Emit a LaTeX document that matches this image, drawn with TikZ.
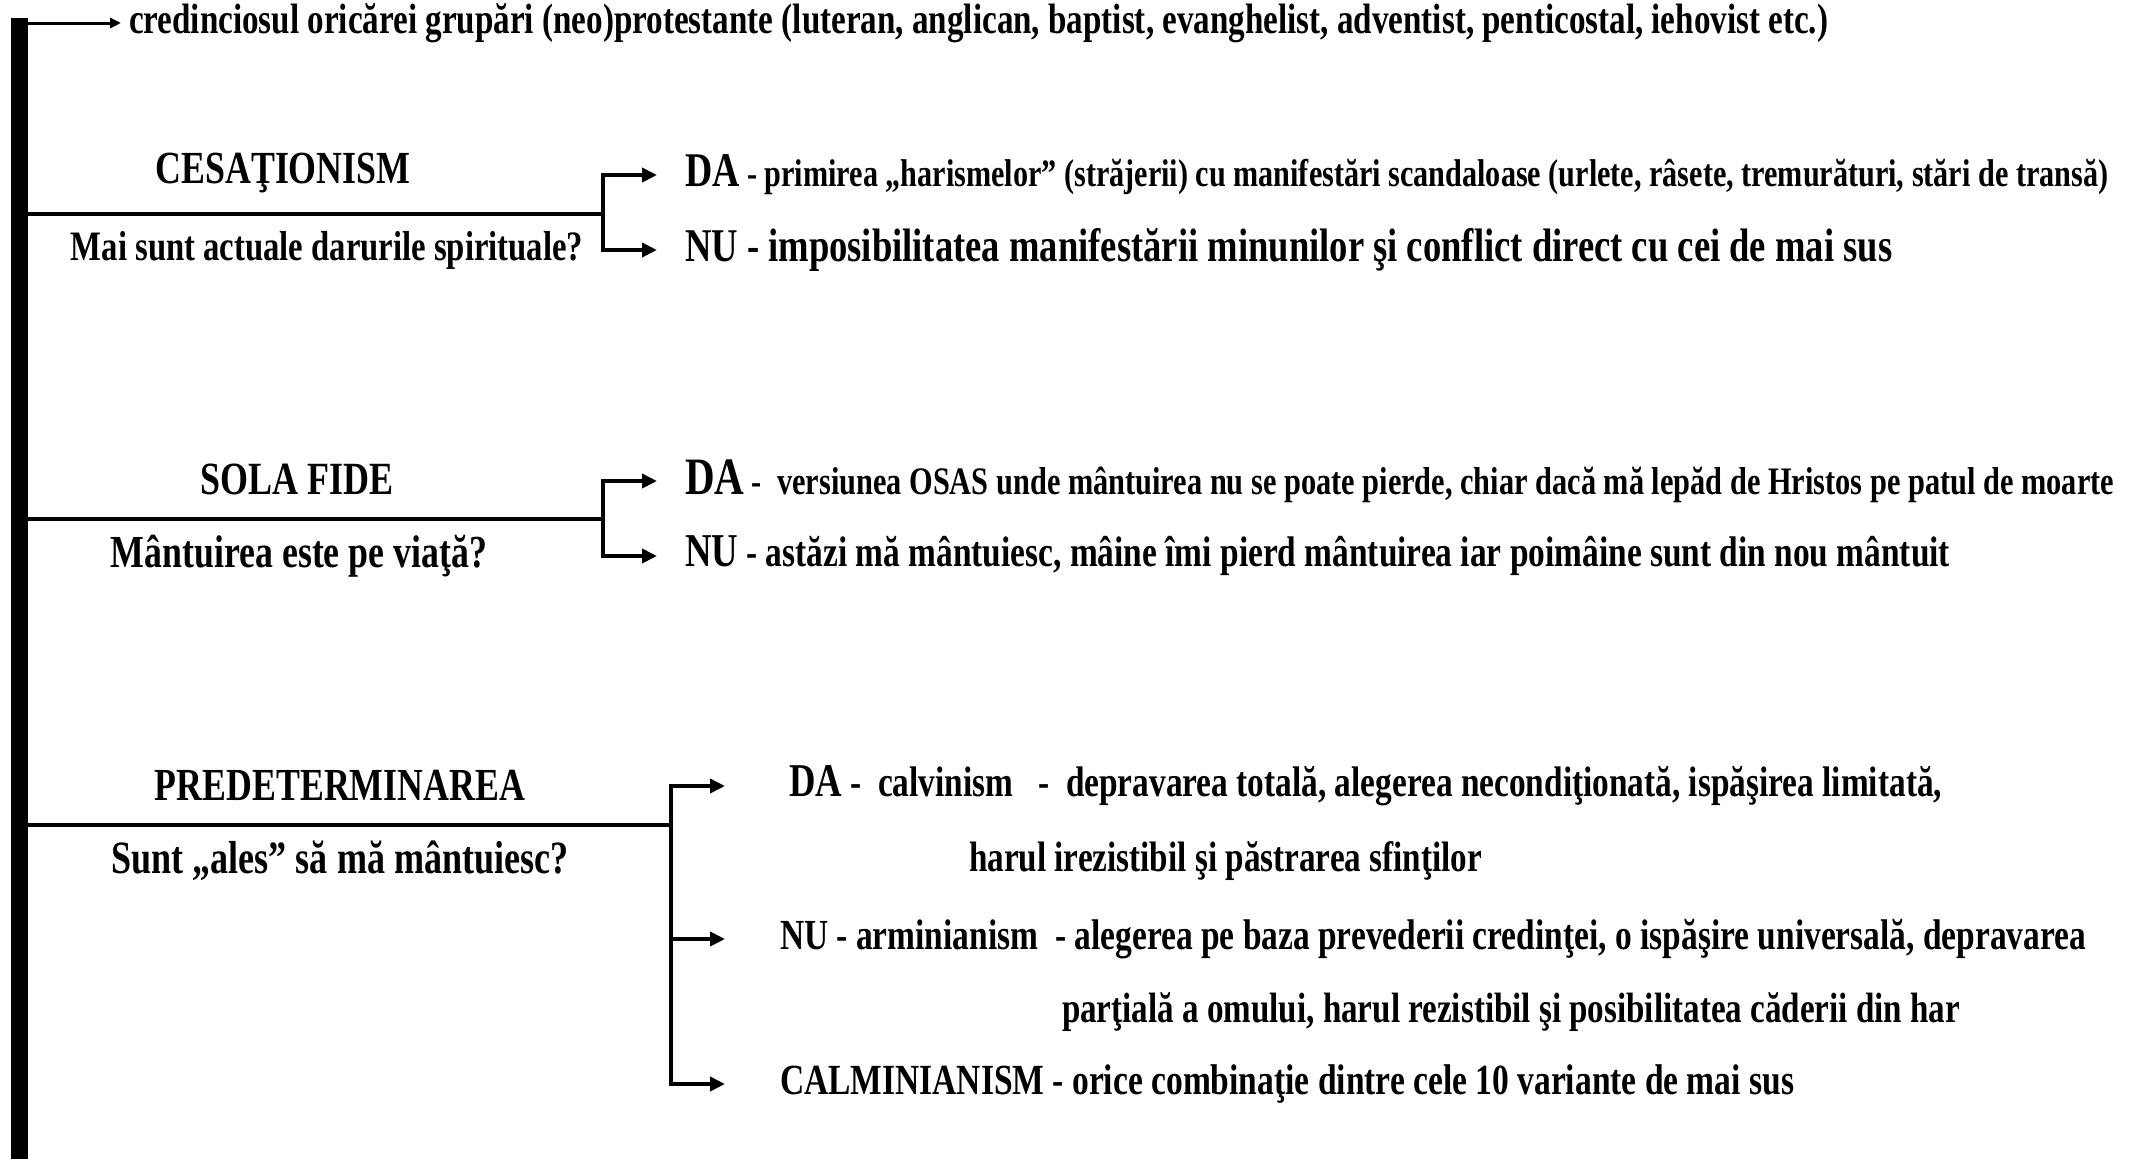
\documentclass[tikz,border=0pt]{standalone}
\usepackage{fontspec}
\setmainfont{Liberation Serif}[FakeStretch=0.78]
\usetikzlibrary{arrows.meta}
\newcommand\fitw[2]{\resizebox{#1pt}{!}{\bfseries\fontsize{20}{24}\selectfont #2}}
\tikzset{
  tri/.tip={Triangle[length=15pt,width=14pt]},
  smalltri/.tip={Triangle[length=11pt,width=10pt]},
  lbl/.style={inner sep=0pt, outer sep=0pt},
  conn/.style={line width=4.5pt, line join=miter},
  thinconn/.style={line width=3pt}
}
\begin{document}
\begin{tikzpicture}[x=1pt,y=-1pt]
\useasboundingbox (0,0) rectangle (2134,1159);
% main bar
\coordinate (barT) at (19,18);
\coordinate (barB) at (19,1159);
\draw[line width=17pt] (barB) -- (barT);
% top line
\node[lbl,anchor=west] (top) at (129,23) {\fitw{1699}{credinciosul oricărei grupări (neo)protestante (luteran, anglican, baptist, evanghelist, adventist, penticostal, iehovist etc.)}};
\coordinate (topS) at (25,23);
\draw[thinconn,-smalltri] (topS) -- ([xshift=-8pt]top.west);
% section 1
\node[lbl] (h1) at (283,173) {\fitw{255}{CESAŢIONISM}};
\node[lbl] (q1) at (327,250) {\fitw{512}{Mai sunt actuale darurile spirituale?}};
\coordinate (s1) at (27,214);
\coordinate (j1) at (603,214);
\draw[conn] (s1) -- (j1);
\node[lbl,anchor=west] (d1) at (685,175) {\fitw{1423}{{\fontsize{25}{25}\selectfont DA} - primirea „harismelor” (străjerii) cu manifestări scandaloase (urlete, râsete, tremurături, stări de transă)}};
\node[lbl,anchor=west] (n1) at (685,250) {\fitw{1207}{NU - imposibilitatea manifestării minunilor şi conflict direct cu cei de mai sus}};
\draw[conn,tri-tri] ([xshift=-28pt]d1.west) -| (j1) |- ([xshift=-28pt]n1.west);
% section 2
\node[lbl] (h2) at (297,479) {\fitw{193}{SOLA FIDE}};
\node[lbl] (q2) at (299,556) {\fitw{376}{Mântuirea este pe viaţă?}};
\coordinate (s2) at (27,519);
\coordinate (j2) at (603,519);
\draw[conn] (s2) -- (j2);
\node[lbl,anchor=west] (d2) at (685,481) {\fitw{1429}{{\fontsize{27}{27}\selectfont DA} -\ \ versiunea OSAS unde mântuirea nu se poate pierde, chiar dacă mă lepăd de Hristos pe patul de moarte}};
\node[lbl,anchor=west] (n2) at (685,556) {\fitw{1265}{{\fontsize{22}{22}\selectfont NU} - astăzi mă mântuiesc, mâine îmi pierd mântuirea iar poimâine sunt din nou mântuit}};
\draw[conn,tri-tri] ([xshift=-28pt]d2.west) -| (j2) |- ([xshift=-28pt]n2.west);
% section 3
\node[lbl] (h3) at (340,785) {\fitw{370}{PREDETERMINAREA}};
\node[lbl] (q3) at (340,861) {\fitw{457}{Sunt „ales” să mă mântuiesc?}};
\coordinate (s3) at (27,825);
\coordinate (j3) at (671,825);
\draw[conn] (s3) -- (j3);
\node[lbl,anchor=west] (d3) at (789,786) {\fitw{1153}{{\fontsize{22}{22}\selectfont DA} -\ \ calvinism\ \ \ -\ \ depravarea totală, alegerea necondiţionată, ispăşirea limitată,}};
\node[lbl,anchor=west] (d3b) at (969,861) {\fitw{513}{harul irezistibil şi păstrarea sfinţilor}};
\node[lbl,anchor=west] (n3) at (780,939) {\fitw{1306}{NU - arminianism\ \ - alegerea pe baza prevederii credinţei, o ispăşire universală, depravarea}};
\node[lbl,anchor=west] (n3b) at (1062,1012) {\fitw{898}{parţială a omului, harul rezistibil şi posibilitatea căderii din har}};
\node[lbl,anchor=west] (c3) at (780,1084) {\fitw{1014}{CALMINIANISM - orice combinaţie dintre cele 10 variante de mai sus}};
\coordinate (m3) at (671,939);
\draw[conn,tri-tri] ([xshift=-64pt]d3.west) -| (j3) |- ([xshift=-55pt]c3.west);
\draw[conn,-tri] (m3) -- ([xshift=-55pt]n3.west);
\end{tikzpicture}
\end{document}
